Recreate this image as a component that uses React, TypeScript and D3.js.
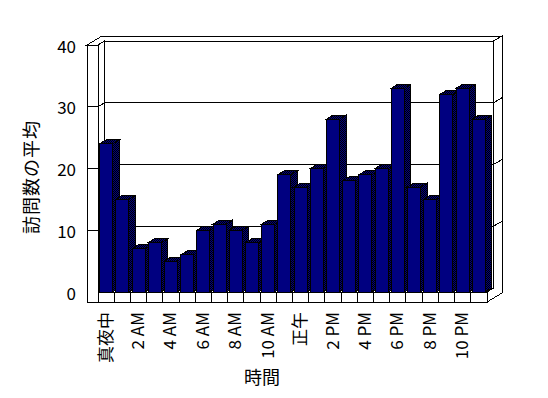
import * as d3 from "d3";

const hours = [
  "真夜中", "1 AM", "2 AM", "3 AM", "4 AM", "5 AM", "6 AM", "7 AM", "8 AM", "9 AM", "10 AM", "11 AM",
  "正午", "1 PM", "2 PM", "3 PM", "4 PM", "5 PM", "6 PM", "7 PM", "8 PM", "9 PM", "10 PM", "11 PM",
];
const visits = [24, 15, 7, 8, 5, 6, 10, 11, 10, 8, 11, 19, 17, 20, 28, 18, 19, 20, 33, 17, 15, 32, 33, 28];
const yTicks = [0, 10, 20, 30, 40];
const yTitle = "訪問数の平均";
const xTitle = "時間";

const width = 548;
const height = 398;
const wallOuter = 87; // outer face of the left wall
const left = 98; // inner face of the left wall, start of categories
const right = 487;
const floorBottom = 302;
// oblique depth offsets: bar / inner wall, and outer wall
const dx = 6.5;
const dy = -4;
const dx2 = 15;
const dy2 = -9;

const font = "'Noto Sans CJK JP', 'Noto Sans', sans-serif";

type Pt = [number, number];
const pts = (p: Pt[]) => p.map((q) => `${q[0]},${q[1]}`).join(" ");

export default function App() {
  const x = d3
    .scaleBand<string>()
    .domain(hours)
    .range([left, right])
    .paddingInner(0.2)
    .paddingOuter(0.1);
  const y = d3.scaleLinear().domain([0, 40]).range([292, 45]);

  const step = x.step();
  const bw = x.bandwidth();
  const y0 = y(0);
  const yTop = y(40);

  const ink = { fill: "none", stroke: "#000", strokeWidth: 1 };

  return (
    <svg
      width={width}
      height={height}
      style={{ position: "absolute", left: 0, top: 0, background: "#fff" }}
      shapeRendering="crispEdges"
    >
      <defs>
        <pattern id="dither" width={2} height={2} patternUnits="userSpaceOnUse">
          <rect width={2} height={2} fill="#000080" />
          <rect width={1} height={1} fill="#000" />
          <rect x={1} y={1} width={1} height={1} fill="#000" />
        </pattern>
      </defs>

      {/* top surface of the walls */}
      <polygon
        points={pts([
          [wallOuter, yTop],
          [left, yTop],
          [left + dx, yTop + dy],
          [right + dx, yTop + dy],
          [right + dx2, yTop + dy2],
          [wallOuter + dx2, yTop + dy2],
        ])}
        fill="#fff"
        stroke="#000"
      />
      {/* left wall inner face */}
      <polygon
        points={pts([
          [left, yTop],
          [left + dx, yTop + dy],
          [left + dx, y0 + dy],
          [left, y0],
        ])}
        fill="#fff"
        stroke="#000"
      />
      {/* back wall inner face */}
      <rect x={left + dx} y={yTop + dy} width={right - left} height={y0 - yTop} fill="#fff" stroke="#000" />
      {/* right end face of the walls and floor */}
      <polygon
        points={pts([
          [right, floorBottom],
          [right + dx2, floorBottom + dy2],
          [right + dx2, yTop + dy2],
          [right + dx, yTop + dy],
          [right + dx, y0 + dy],
          [right, y0],
        ])}
        fill="#fff"
        stroke="#000"
      />

      {/* floor front face */}
      <rect x={left} y={y0} width={right - left} height={floorBottom - y0} fill="#fff" stroke="#000" />
      {/* left wall front face (merges with floor front) */}
      <rect x={wallOuter} y={yTop} width={left - wallOuter} height={floorBottom - yTop} fill="#fff" stroke="none" />
      <polyline
        points={pts([
          [left, y0],
          [left, yTop],
          [wallOuter, yTop],
          [wallOuter, floorBottom],
          [right, floorBottom],
        ])}
        {...ink}
      />

      {/* gridlines */}
      {yTicks
        .filter((t) => t > 0 && t < 40)
        .map((t) => (
          <polyline
            key={t}
            points={pts([
              [wallOuter, y(t)],
              [left, y(t)],
              [left + dx, y(t) + dy],
              [right + dx, y(t) + dy],
              [right + dx2, y(t) + dy2],
            ])}
            {...ink}
          />
        ))}

      {/* category ticks on the floor */}
      {hours.slice(1).map((h) => {
        const cx = (x(h) as number) - step * 0.1;
        return <line key={h} x1={cx} y1={y0} x2={cx} y2={floorBottom} stroke="#000" />;
      })}

      {/* bars */}
      {hours.map((h, i) => {
        const x0 = x(h) as number;
        const x1 = x0 + bw;
        const yv = y(visits[i]);
        return (
          <g key={h} stroke="#000" strokeWidth={1}>
            <polygon
              points={pts([
                [x1, yv],
                [x1 + dx, yv + dy],
                [x1 + dx, y0 + dy],
                [x1, y0],
              ])}
              fill="url(#dither)"
            />
            <polygon
              points={pts([
                [x0, yv],
                [x1, yv],
                [x1 + dx, yv + dy],
                [x0 + dx, yv + dy],
              ])}
              fill="url(#dither)"
            />
            <rect x={x0} y={yv} width={bw} height={y0 - yv} fill="#000080" />
          </g>
        );
      })}

      {/* y tick labels */}
      {yTicks.map((t) => (
        <text
          key={t}
          x={76}
          y={y(t)}
          textAnchor="end"
          dominantBaseline="central"
          fontFamily={font}
          fontSize={17}
          fill="#000"
        >
          {t}
        </text>
      ))}

      {/* x tick labels */}
      {hours.map((h, i) =>
        i % 2 === 0 ? (
          <text
            key={h}
            transform={`translate(${(x(h) as number) + bw / 2 - 2},312) rotate(-90)`}
            textAnchor="end"
            dominantBaseline="central"
            fontFamily={font}
            fontSize={17}
            fill="#000"
          >
            {h}
          </text>
        ) : null
      )}

      {/* axis titles */}
      <text
        transform="translate(30,177) rotate(-90)"
        textAnchor="middle"
        dominantBaseline="central"
        fontFamily={font}
        fontSize={18}
        letterSpacing={1}
        fill="#000"
      >
        {yTitle}
      </text>
      <text
        x={262}
        y={376}
        textAnchor="middle"
        dominantBaseline="central"
        fontFamily={font}
        fontSize={18}
        fill="#000"
      >
        {xTitle}
      </text>
    </svg>
  );
}
